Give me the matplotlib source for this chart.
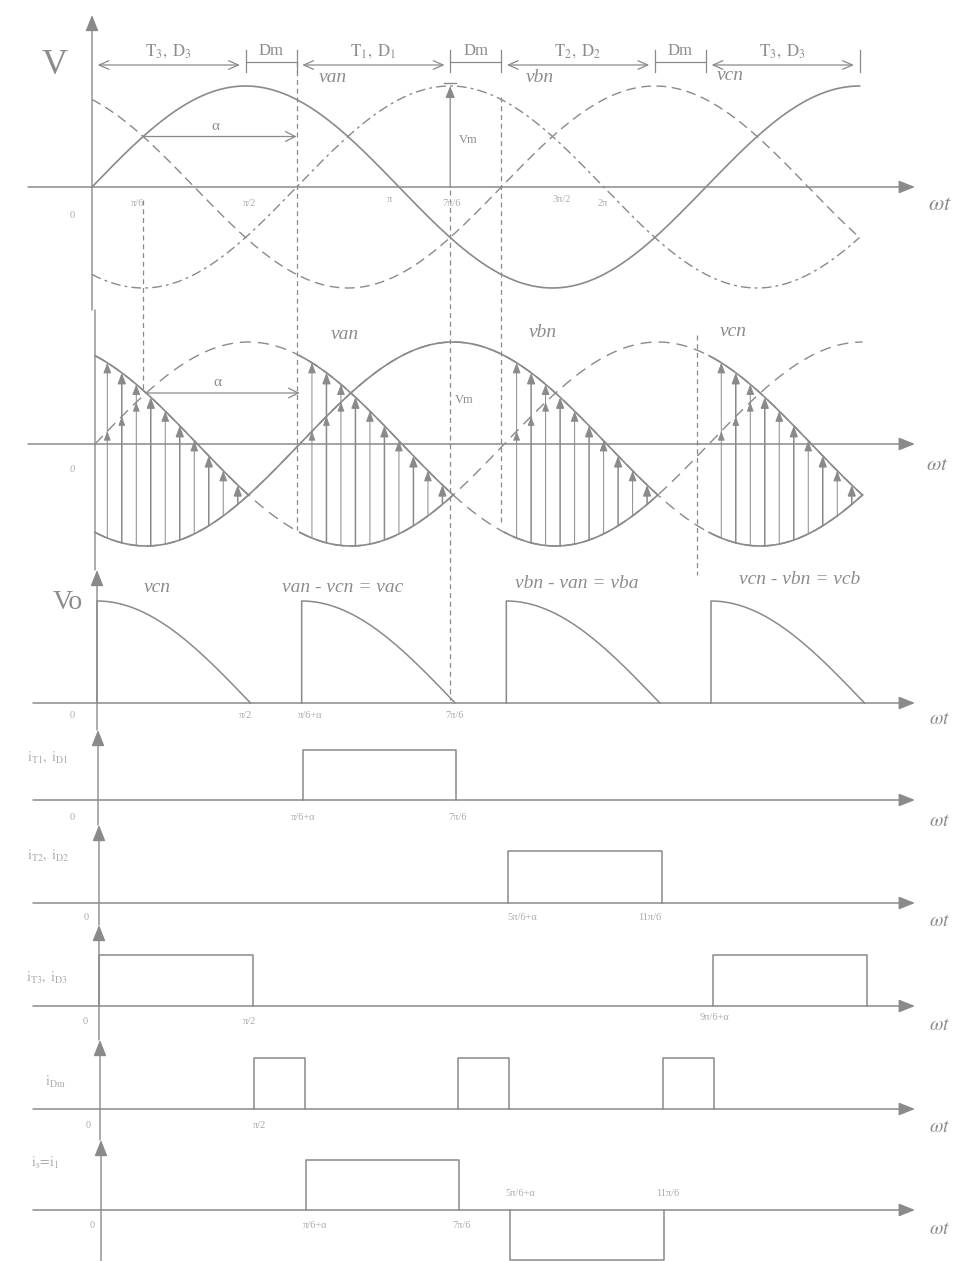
import numpy as np
import matplotlib
matplotlib.use('Agg')
import matplotlib.pyplot as plt

plt.rcParams['font.family'] = ['Liberation Serif', 'DejaVu Serif']
plt.rcParams['mathtext.fontset'] = 'stix'

PI = np.pi
W, H = 961, 1261
PXPI = 307.0          # pixels per pi along the time axis

LC = '#8a8a8a'        # line colour
TC = '#8c8c8c'        # text colour
FC = '#ababab'        # faint tick-label colour

# ------------------------- data (angles in multiples of pi) -------------------------
phase_names = ['van', 'vbn', 'vcn']
phase_shift = [0.0, -2/3, 2/3]
theta_span = [0.0, 2.5]
alpha = 1/2

cond_bounds = [0, 1/2, 2/3, 7/6, 4/3, 11/6, 2, 5/2]
cond_labels = [r'$\mathrm{T_3,\ D_3}$', 'Dm', r'$\mathrm{T_1,\ D_1}$', 'Dm',
               r'$\mathrm{T_2,\ D_2}$', 'Dm', r'$\mathrm{T_3,\ D_3}$']

region_start = [0, 2/3, 4/3, 2]
region_end = [1/2, 7/6, 11/6, 5/2]
region_upper = ['vcn', 'van', 'vbn', 'vcn']
region_lower = ['vbn', 'vcn', 'van', 'vbn']
hatch_count = 10

solid_van = [(2/3, 7/6), (4/3, 11/6)]
solid_vbn = [(0, 11/6), (2, 5/2)]
solid_vcn = [(0, 1/2), (2/3, 7/6), (2, 5/2)]

vo_start = [0, 2/3, 4/3, 2]
vo_width = 1/2
vo_peak = 1.0
vo_labels = ['vcn', 'van - vcn = vac', 'vbn - van = vba', 'vcn - vbn = vcb']

iT1_on = [(2/3, 7/6)]
iT2_on = [(4/3, 11/6)]
iT3_on = [(0, 1/2), (2, 5/2)]
iDm_on = [(1/2, 2/3), (7/6, 4/3), (11/6, 2)]
is_pos = [(2/3, 7/6)]
is_neg = [(4/3, 11/6)]
current_level = 1.0


def phase(name, th):
    return np.sin(th + phase_shift[phase_names.index(name)] * PI)


fig = plt.figure(figsize=(W / 100, H / 100), dpi=100)
fig.patch.set_facecolor('white')


class Panel:
    def __init__(self, x0, y0, unit):
        self.x0, self.y0, self.unit = x0, y0, unit
        ax = fig.add_axes([0, 0, 1, 1])
        ax.set_xlim(self.tx(0), self.tx(W))
        ax.set_ylim(self.ty(H), self.ty(0))
        ax.axis('off')
        ax.patch.set_alpha(0)
        self.ax = ax

    def tx(self, px):
        return (px - self.x0) / PXPI * PI

    def ty(self, py):
        return (self.y0 - py) / self.unit


def ftext(px, py, s, size=9, color=TC, **kw):
    fig.text(px / W, 1 - py / H, s, ha='center', va='center', fontsize=size, color=color, **kw)


def h_axis(p, left=28, right=915):
    p.ax.annotate('', xy=(p.tx(right), 0), xytext=(p.tx(left), 0),
                  arrowprops=dict(arrowstyle='-|>,head_length=0.7,head_width=0.28', color=LC,
                                  lw=1.1, mutation_scale=14, shrinkA=0, shrinkB=0))


def v_axis(p, top, bottom, arrow=True):
    style = '-|>,head_length=0.7,head_width=0.28' if arrow else '-'
    p.ax.annotate('', xy=(0, p.ty(top)), xytext=(0, p.ty(bottom)),
                  arrowprops=dict(arrowstyle=style, color=LC, lw=1.0, mutation_scale=14,
                                  shrinkA=0, shrinkB=0))


def dline(p, th, py_top, py_bot, ls=(0, (4, 3))):
    p.ax.plot([th, th], [p.ty(py_top), p.ty(py_bot)], color=LC, lw=0.9, ls=ls)


th = np.linspace(theta_span[0] * PI, theta_span[1] * PI, 800)

# ================= panel 1 : phase voltages =================
p1 = Panel(92, 187, 101)
a = p1.ax
a.plot(th, phase('van', th), color=LC, lw=1.2)
a.plot(th, phase('vbn', th), color=LC, lw=1.0, ls=(0, (7, 3, 2, 3)))
a.plot(th, phase('vcn', th), color=LC, lw=1.0, ls=(0, (7, 4)))
h_axis(p1)
v_axis(p1, 15, 310)

# conduction intervals
ya = p1.ty(65)
for i, lab in enumerate(cond_labels):
    s, e = cond_bounds[i] * PI, cond_bounds[i + 1] * PI
    if lab == 'Dm':
        a.plot([s, e], [ya + 0.03, ya + 0.03], color=LC, lw=0.9)
    else:
        a.annotate('', xy=(e, ya), xytext=(s, ya),
                   arrowprops=dict(arrowstyle='<->,head_length=0.5,head_width=0.22', color=LC,
                                   lw=0.9, mutation_scale=14, shrinkA=4, shrinkB=4))
    a.text((s + e) / 2, p1.ty(51), lab, ha='center', va='center', fontsize=12, color=TC)
for b in cond_bounds[1:]:
    a.plot([b * PI, b * PI], [p1.ty(72), p1.ty(50)], color=LC, lw=0.9)

# alpha arrow and Vm
a.annotate('', xy=((1/6 + alpha) * PI, 0.5), xytext=(PI / 6, 0.5),
           arrowprops=dict(arrowstyle='->,head_length=0.5,head_width=0.25', color=LC, lw=0.9,
                           mutation_scale=14, shrinkA=0, shrinkB=0))
a.annotate('', xy=(7 * PI / 6, 1.0), xytext=(7 * PI / 6, 0),
           arrowprops=dict(arrowstyle='-|>,head_length=0.5,head_width=0.2', color=LC, lw=0.9,
                           mutation_scale=14, shrinkA=0, shrinkB=0))
a.plot([7 * PI / 6 - 0.06, 7 * PI / 6 + 0.06], [1.03, 1.03], color=LC, lw=1.0)

dline(p1, PI / 6, 200, 392)
dline(p1, 2 * PI / 3, 62, 530)
dline(p1, 7 * PI / 6, 190, 700)
dline(p1, 4 * PI / 3, 97, 525)

ftext(55, 66, 'V', size=26)
for x, y, s in [(333, 78, 'van'), (540, 77, 'vbn'), (730, 75, 'vcn')]:
    ftext(x, y, s, size=14, style='italic')
ftext(215, 127, 'α', size=11)
ftext(468, 140, 'Vm', size=9)
for x, y, s in [(72, 215, '0'), (138, 203, 'π/6'), (250, 203, 'π/2'), (390, 200, 'π'),
                (452, 203, '7π/6'), (562, 200, '3π/2'), (603, 203, '2π')]:
    ftext(x, y, s, size=7.5, color=FC)
ftext(940, 205, r'$\omega t$', size=16)

# ================= panel 2 : bridge output construction =================
p2 = Panel(95, 444, 102)
a = p2.ax
for name in phase_names:
    a.plot(th, phase(name, th), color=LC, lw=1.0, ls=(0, (8, 5)))
for name, segs in [('van', solid_van), ('vbn', solid_vbn), ('vcn', solid_vcn)]:
    for s, e in segs:
        t = np.linspace(s * PI, e * PI, 200)
        a.plot(t, phase(name, t), color=LC, lw=1.2)
for s, e, up, lo in zip(region_start, region_end, region_upper, region_lower):
    third = [n for n in phase_names if n not in (up, lo)][0]
    xs = np.linspace(s + 0.04, e - 0.035, hatch_count) * PI
    for k, x in enumerate(xs):
        y0, y1 = phase(lo, x), phase(up, x)
        a.annotate('', xy=(x, y1), xytext=(x, y0),
                   arrowprops=dict(arrowstyle='-|>,head_length=0.45,head_width=0.17', color=LC,
                                   lw=1.1 if k % 2 else 0.7, mutation_scale=14, shrinkA=0, shrinkB=0))
        y3 = phase(third, x)
        if y0 + 0.15 < y3 < y1 - 0.15:
            a.annotate('', xy=(x, y3), xytext=(x, y3 - 0.06),
                       arrowprops=dict(arrowstyle='-|>,head_length=0.4,head_width=0.15', color=LC,
                                       lw=0.6, mutation_scale=14, shrinkA=0, shrinkB=0))
h_axis(p2)
v_axis(p2, 310, 570, arrow=False)
a.annotate('', xy=((1/6 + alpha) * PI, 0.5), xytext=(PI / 6, 0.5),
           arrowprops=dict(arrowstyle='->,head_length=0.5,head_width=0.25', color=LC, lw=0.9,
                           mutation_scale=14, shrinkA=0, shrinkB=0))
dline(p2, p2.tx(697), 335, 575)
for x, y, s in [(345, 335, 'van'), (543, 333, 'vbn'), (733, 332, 'vcn')]:
    ftext(x, y, s, size=14, style='italic')
ftext(217, 382, 'α', size=11)
ftext(464, 400, 'Vm', size=9)
ftext(72, 470, '0', size=7.5, color=FC, style='italic')
ftext(937, 465, r'$\omega t$', size=15)

# ================= panel 3 : output voltage =================
p3 = Panel(97, 703, 102)
a = p3.ax
for s in vo_start:
    t = np.linspace(s * PI, (s + vo_width) * PI, 200)
    v = vo_peak * np.cos(t - s * PI)
    a.plot(np.r_[s * PI, t], np.r_[0, v], color=LC, lw=1.1)
h_axis(p3, left=33)
v_axis(p3, 570, 730)
ftext(68, 602, 'Vo', size=20)
for x, y, s in [(157, 588, vo_labels[0]), (343, 587, vo_labels[1]),
                (577, 583, vo_labels[2]), (800, 580, vo_labels[3])]:
    ftext(x, y, s, size=14, style='italic')
for x, y, s in [(72, 716, '0'), (246, 716, 'π/2'), (310, 716, 'π/6+α'), (455, 716, '7π/6')]:
    ftext(x, y, s, size=7.5, color=FC)
ftext(940, 719, r'$\omega t$', size=14)


# ================= current panels =================
def pulses(p, on, level):
    for s, e in on:
        p.ax.plot([s * PI, s * PI, e * PI, e * PI], [0, level, level, 0], color=LC, lw=1.1)


p4 = Panel(98, 800, 50)
pulses(p4, iT1_on, current_level)
h_axis(p4, left=33)
v_axis(p4, 730, 825)
ftext(48, 757, r'$\mathrm{i_{T1},\ i_{D1}}$', size=10, color=FC)
for x, y, s in [(72, 818, '0'), (303, 818, 'π/6+α'), (458, 818, '7π/6')]:
    ftext(x, y, s, size=7.5, color=FC)
ftext(940, 822, r'$\omega t$', size=14)

p5 = Panel(99, 903, 52)
pulses(p5, iT2_on, current_level)
h_axis(p5, left=33)
v_axis(p5, 825, 925)
ftext(48, 855, r'$\mathrm{i_{T2},\ i_{D2}}$', size=10, color=FC)
for x, y, s in [(86, 917, '0'), (522, 917, '5π/6+α'), (650, 917, '11π/6')]:
    ftext(x, y, s, size=7.5, color=FC)
ftext(940, 922, r'$\omega t$', size=14)

p6 = Panel(99, 1006, 51)
pulses(p6, iT3_on, current_level)
h_axis(p6, left=33)
v_axis(p6, 925, 1040)
ftext(47, 977, r'$\mathrm{i_{T3},\ i_{D3}}$', size=10, color=FC)
for x, y, s in [(85, 1021, '0'), (250, 1022, 'π/2'), (715, 1017, '9π/6+α')]:
    ftext(x, y, s, size=7.5, color=FC)
ftext(940, 1025, r'$\omega t$', size=14)

p7 = Panel(100, 1109, 51)
pulses(p7, iDm_on, current_level)
h_axis(p7, left=33)
v_axis(p7, 1040, 1140)
ftext(55, 1082, r'$\mathrm{i_{Dm}}$', size=10, color=FC)
for x, y, s in [(88, 1125, '0'), (260, 1125, 'π/2')]:
    ftext(x, y, s, size=7.5, color=FC)
ftext(940, 1127, r'$\omega t$', size=14)

p8 = Panel(101, 1210, 50)
pulses(p8, is_pos, current_level)
pulses(p8, is_neg, -current_level)
h_axis(p8, left=33)
v_axis(p8, 1140, 1261)
ftext(45, 1163, r'$\mathrm{i_s\!=\!i_1}$', size=10, color=FC)
for x, y, s in [(92, 1225, '0'), (315, 1225, 'π/6+α'), (462, 1225, '7π/6'),
                (520, 1193, '5π/6+α'), (668, 1193, '11π/6')]:
    ftext(x, y, s, size=7.5, color=FC)
ftext(940, 1230, r'$\omega t$', size=14)

fig.savefig('out.png', dpi=100, facecolor='white')
